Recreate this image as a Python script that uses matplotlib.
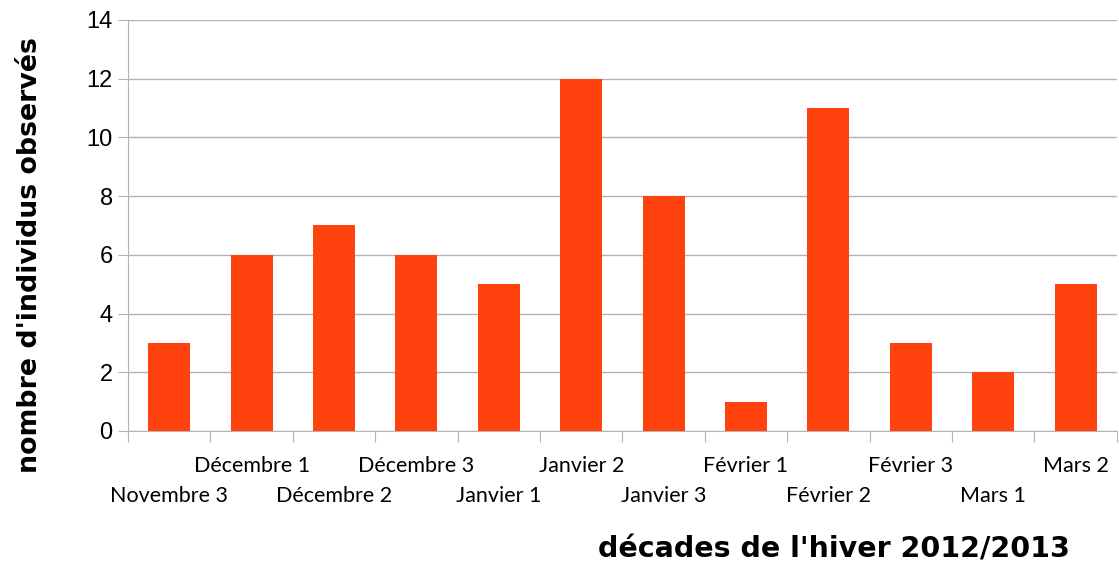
import matplotlib
matplotlib.use('Agg')
import matplotlib.pyplot as plt
import numpy as np

decades = ['Novembre 3', 'Décembre 1', 'Décembre 2', 'Décembre 3', 'Janvier 1', 'Janvier 2',
           'Janvier 3', 'Février 1', 'Février 2', 'Février 3', 'Mars 1', 'Mars 2']
individus = [3, 6, 7, 6, 5, 12, 8, 1, 11, 3, 2, 5]

bar_color = '#ff420e'
grid_color = '#b3b3b3'
label_font = ['Lato', 'DejaVu Sans']
title_font = ['DejaVu Sans']

fig = plt.figure(figsize=(11.19, 5.67), dpi=100)
ax = fig.add_axes([0.1144, 0.2399, 0.8836, 0.7251])

x = np.arange(len(decades))
ax.bar(x, individus, width=0.51, color=bar_color, zorder=3)

ax.set_xlim(-0.5, len(decades) - 0.5)
ax.set_ylim(0, 14)
ax.set_yticks(range(0, 15, 2))
ax.tick_params(axis='y', length=7, color=grid_color, labelsize=17, pad=4,
               labelfontfamily='Liberation Sans')
ax.yaxis.grid(True, color=grid_color, linewidth=1, zorder=0)

# tick marks at category boundaries, labels staggered in two rows
ax.set_xticks(np.arange(-0.5, len(decades), 1.0))
ax.set_xticklabels([])
ax.tick_params(axis='x', length=8, color=grid_color)
for i, name in enumerate(decades):
    dy = -47 if i % 2 == 0 else -25
    ax.annotate(name, xy=(i, 0), xycoords=('data', 'axes fraction'),
                xytext=(0, dy), textcoords='offset points',
                ha='center', va='center', fontsize=15.5, family=label_font)

for side in ['top', 'right']:
    ax.spines[side].set_visible(False)
for side in ['left', 'bottom']:
    ax.spines[side].set_color(grid_color)

fig.text(0.745, 0.03, "décades de l'hiver 2012/2013", ha='center', va='center',
         fontsize=20.5, fontweight='bold', family=title_font)
fig.text(0.027, 0.55, "nombre d'individus observés", ha='center', va='center',
         rotation=90, fontsize=19.3, fontweight='bold', family=title_font)

fig.savefig('out.png', dpi=100)
